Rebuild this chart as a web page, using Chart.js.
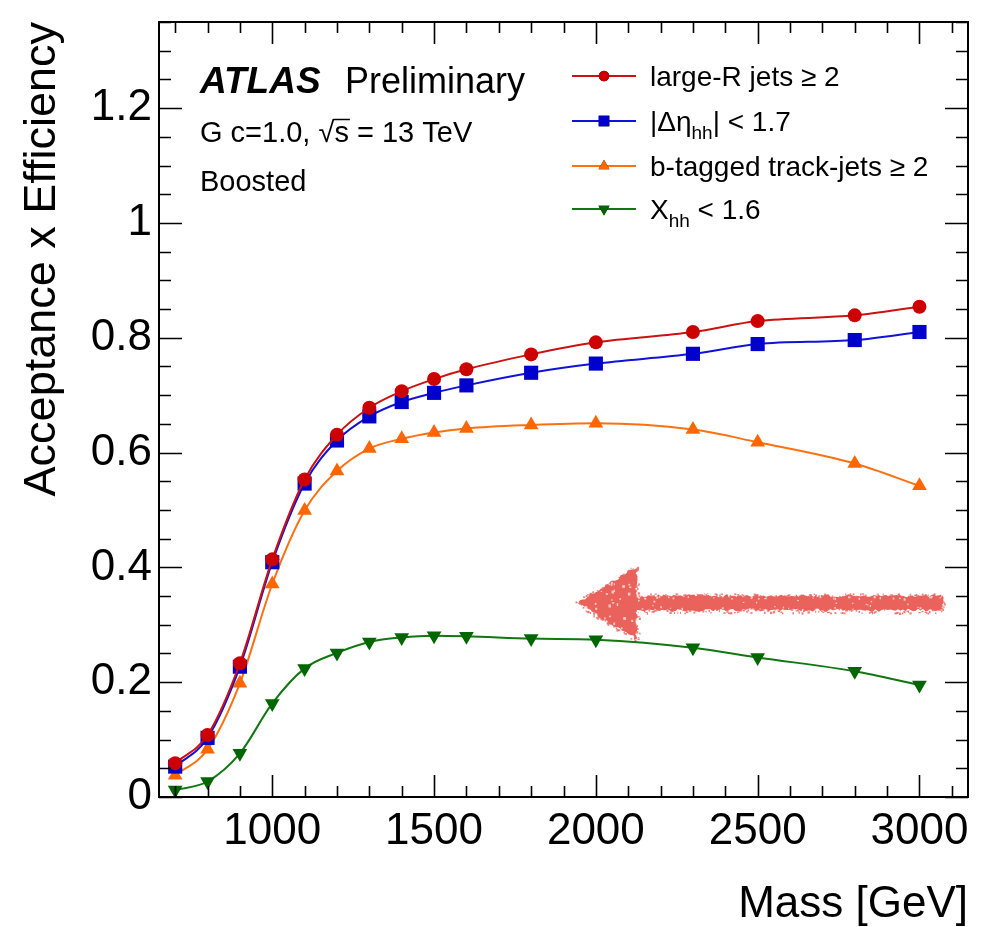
<!DOCTYPE html>
<html>
<head>
<meta charset="utf-8">
<script src="https://cdn.jsdelivr.net/npm/chart.js@4.4.0/dist/chart.umd.min.js"></script>
<style>
  html, body { margin: 0; padding: 0; background: #fff; }
  #wrap { width: 995px; height: 927px; }
</style>
</head>
<body>
<div id="wrap"><canvas id="acc_eff" width="995" height="927"></canvas></div>
<script>
// signal mass points [GeV]
const masses = [700, 800, 900, 1000, 1100, 1200, 1300, 1400, 1500, 1600, 1800, 2000, 2300, 2500, 2800, 3000];

// cumulative acceptance x efficiency after each cut
const largeRJets = [0.059, 0.108, 0.233, 0.414, 0.553, 0.631, 0.678, 0.707, 0.728, 0.745, 0.771, 0.792, 0.810, 0.829, 0.839, 0.854];
const deltaEtaCut = [0.053, 0.103, 0.227, 0.409, 0.546, 0.621, 0.663, 0.688, 0.704, 0.717, 0.739, 0.755, 0.772, 0.789, 0.796, 0.810];
const btagTrackJets = [0.038, 0.083, 0.198, 0.371, 0.499, 0.568, 0.607, 0.624, 0.635, 0.642, 0.648, 0.651, 0.640, 0.618, 0.581, 0.542];
const xhhCut = [0.012, 0.027, 0.076, 0.163, 0.224, 0.251, 0.270, 0.278, 0.281, 0.280, 0.276, 0.274, 0.260, 0.243, 0.219, 0.195];

const xTickLabels = [1000, 1500, 2000, 2500, 3000];
const yTickLabels = [0, 0.2, 0.4, 0.6, 0.8, 1, 1.2];

// legend text: [main, subscript, rest]
const legendText = [
    ['large-R jets \u2265 2', '', ''],
    ['|\u0394\u03b7', 'hh', '| < 1.7'],
    ['b-tagged track-jets \u2265 2', '', ''],
    ['X', 'hh', ' < 1.6']
];

const FONT = '"Liberation Sans", Arial, Helvetica, sans-serif';

// arrow annotation, in axis units
const arrowTipX = 1940, arrowHeadX = 2126, arrowEndX = 3071;
const arrowY = 0.338, arrowHeadHalf = 0.063, arrowShaftHalf = 0.0125;

function makeSet(label, values, color, lineColor, style, radius, rotation) {
    return {
        label: label,
        data: masses.map((m, i) => ({x: m, y: values[i]})),
        borderColor: lineColor,
        backgroundColor: color,
        pointBackgroundColor: color,
        pointBorderColor: color,
        pointBorderWidth: 0,
        pointStyle: style,
        pointRadius: radius,
        pointRotation: rotation || 0,
        borderWidth: 2,
        cubicInterpolationMode: 'monotone',
        fill: false
    };
}

const datasets = [
    makeSet('large-R jets \u2265 2', largeRJets, '#cc0000', '#cc1111', 'circle', 7),
    makeSet('|\u0394\u03b7hh| < 1.7', deltaEtaCut, '#0000cc', '#1111dd', 'rect', 10),
    makeSet('b-tagged track-jets \u2265 2', btagTrackJets, '#ff6600', '#ff7011', 'triangle', 8.5),
    makeSet('Xhh < 1.6', xhhCut, '#006600', '#117711', 'triangle', 8.5, 180)
];

// seeded generator so the arrow texture is the same on every load
let seed = 12345;
function rnd() {
    seed = (seed * 1103515245 + 12345) % 2147483648;
    return seed / 2147483648;
}

const arrowPlugin = {
    id: 'arrowPlugin',
    beforeDatasetsDraw(chart) {
        const ctx = chart.ctx;
        const xs = chart.scales.x, ys = chart.scales.y;
        const tipX = xs.getPixelForValue(arrowTipX);
        const headX = xs.getPixelForValue(arrowHeadX);
        const endX = xs.getPixelForValue(arrowEndX);
        const cy = ys.getPixelForValue(arrowY);
        const hh = ys.getPixelForValue(arrowY - arrowHeadHalf) - cy;
        const sh = ys.getPixelForValue(arrowY - arrowShaftHalf) - cy;
        const pts = [
            [tipX, cy], [headX, cy - hh], [headX, cy - sh], [endX, cy - sh],
            [endX, cy + sh], [headX, cy + sh], [headX, cy + hh]
        ];
        ctx.save();
        // outline with a hand-drawn wobble
        ctx.fillStyle = 'rgb(234, 98, 92)';
        ctx.beginPath();
        ctx.moveTo(pts[0][0], pts[0][1]);
        for (let i = 0; i < pts.length; i++) {
            const a = pts[i], b = pts[(i + 1) % pts.length];
            const len = Math.hypot(b[0] - a[0], b[1] - a[1]);
            const nx = -(b[1] - a[1]) / len, ny = (b[0] - a[0]) / len;
            for (let s = 2; s < len; s += 2.5) {
                const t = s / len;
                const off = (rnd() - 0.5) * 3;
                ctx.lineTo(a[0] + (b[0] - a[0]) * t + nx * off, a[1] + (b[1] - a[1]) * t + ny * off);
            }
            ctx.lineTo(b[0], b[1]);
        }
        ctx.closePath();
        ctx.fill();
        // loose grains along the edges
        for (let i = 0; i < pts.length; i++) {
            const a = pts[i], b = pts[(i + 1) % pts.length];
            const len = Math.hypot(b[0] - a[0], b[1] - a[1]);
            const nx = -(b[1] - a[1]) / len, ny = (b[0] - a[0]) / len;
            for (let s = 0; s < len; s += 1.5) {
                const t = s / len;
                const off = (rnd() - 0.5) * 5;
                const px = a[0] + (b[0] - a[0]) * t + nx * off;
                const py = a[1] + (b[1] - a[1]) * t + ny * off;
                ctx.fillStyle = rnd() < 0.8 ? 'rgba(234, 98, 92, 0.8)' : 'rgba(255, 255, 255, 0.7)';
                ctx.fillRect(px, py, 1 + rnd() * 1.5, 1 + rnd() * 1.5);
            }
        }
        // a few pale specks inside
        ctx.fillStyle = 'rgba(255, 225, 222, 0.8)';
        for (let k = 0; k < 18; k++) {
            const px = tipX + 14 + rnd() * (headX - tipX - 18);
            const py = cy + (rnd() - 0.5) * hh * 1.4 * (px - tipX) / (headX - tipX);
            ctx.fillRect(px, py, 1 + rnd() * 2, 1 + rnd() * 2);
        }
        for (let k = 0; k < 25; k++) {
            const px = headX + rnd() * (endX - headX);
            const py = cy + (rnd() - 0.5) * sh * 1.6;
            ctx.fillRect(px, py, 1 + rnd(), 1 + rnd());
        }
        ctx.restore();
    }
};

const framePlugin = {
    id: 'framePlugin',
    afterDraw(chart) {
        const ctx = chart.ctx;
        const a = chart.chartArea;
        const xs = chart.scales.x, ys = chart.scales.y;
        ctx.save();
        ctx.strokeStyle = '#000';
        ctx.lineWidth = 1.6;
        // x ticks every 100 GeV, long ones every 500
        for (let v = Math.ceil(xs.min / 100) * 100; v <= xs.max; v += 100) {
            const px = Math.round(xs.getPixelForValue(v)) + 0.5;
            const len = v % 500 === 0 ? 22 : 11;
            ctx.beginPath();
            ctx.moveTo(px, a.bottom); ctx.lineTo(px, a.bottom - len);
            ctx.moveTo(px, a.top); ctx.lineTo(px, a.top + len);
            ctx.stroke();
        }
        // y ticks every 0.05, long ones every 0.2
        for (let k = 0; k * 0.05 <= ys.max + 1e-9; k++) {
            const py = Math.round(ys.getPixelForValue(k * 0.05)) + 0.5;
            const len = k % 4 === 0 ? 23 : 12;
            ctx.beginPath();
            ctx.moveTo(a.left, py); ctx.lineTo(a.left + len, py);
            ctx.moveTo(a.right, py); ctx.lineTo(a.right - len, py);
            ctx.stroke();
        }
        ctx.lineWidth = 2;
        ctx.strokeRect(a.left, a.top, a.right - a.left, a.bottom - a.top);

        // labels
        ctx.fillStyle = '#000';
        ctx.textBaseline = 'alphabetic';
        ctx.font = 'italic bold 37px ' + FONT;
        ctx.fillText('ATLAS', 200, 93);
        ctx.font = '36px ' + FONT;
        ctx.fillText('Preliminary', 345, 93);
        ctx.font = '29px ' + FONT;
        let tx0 = 200;
        const pre = 'G c=1.0, \u221A';
        ctx.fillText(pre, tx0, 142);
        tx0 += ctx.measureText(pre).width;
        const sw = ctx.measureText('s').width;
        ctx.fillText('s = 13 TeV', tx0, 142);
        // overline of the square root
        ctx.lineWidth = 1.5;
        ctx.beginPath();
        ctx.moveTo(tx0 - 1, 119.5); ctx.lineTo(tx0 + sw + 1, 119.5);
        ctx.stroke();
        ctx.fillText('Boosted', 200, 191);

        // legend
        const lx0 = 572, lx1 = 636, tx = 650;
        const rows = [76, 121, 166, 209];
        chart.data.datasets.forEach((ds, i) => {
            const y = rows[i];
            ctx.strokeStyle = ds.borderColor;
            ctx.lineWidth = 2;
            ctx.beginPath();
            ctx.moveTo(lx0, y); ctx.lineTo(lx1, y);
            ctx.stroke();
            Chart.helpers.drawPoint(ctx, {
                pointStyle: ds.pointStyle,
                rotation: ds.pointRotation,
                radius: ds.pointRadius * 0.75,
                borderWidth: 0
            }, (lx0 + lx1) / 2, y);
            ctx.fillStyle = ds.pointBackgroundColor;
            ctx.fill();
            const parts = legendText[i];
            ctx.fillStyle = '#000';
            ctx.font = '28px ' + FONT;
            let x = tx;
            const base = y + 10;
            ctx.fillText(parts[0], x, base);
            x += ctx.measureText(parts[0]).width;
            if (parts[1]) {
                ctx.font = '19px ' + FONT;
                ctx.fillText(parts[1], x, base + 8);
                x += ctx.measureText(parts[1]).width;
                ctx.font = '28px ' + FONT;
                ctx.fillText(parts[2], x, base);
            }
        });
        ctx.restore();
    }
};

const ctx = document.getElementById('acc_eff');
const accChart = new Chart(ctx, {
    type: 'line',
    data: { datasets: datasets },
    plugins: [arrowPlugin, framePlugin],
    options: {
        responsive: false,
        devicePixelRatio: 1,
        animation: false,
        layout: { padding: { top: 22, right: 27, left: 0, bottom: 0 } },
        plugins: {
            legend: { display: false },
            tooltip: { enabled: false }
        },
        scales: {
            x: {
                type: 'linear',
                min: 650,
                max: 3150,
                grid: { display: false, drawTicks: false },
                border: { display: false },
                afterBuildTicks: scale => { scale.ticks = xTickLabels.map(v => ({value: v})); },
                afterFit: scale => {
                    scale.height = 130;
                    scale.paddingLeft = 0;
                    scale.paddingRight = 0;
                },
                ticks: {
                    color: '#000',
                    padding: 8,
                    maxRotation: 0,
                    font: { family: FONT, size: 44 },
                    callback: v => String(v)
                },
                title: {
                    display: true,
                    text: 'Mass [GeV]',
                    align: 'end',
                    color: '#000',
                    padding: 0,
                    font: { family: FONT, size: 44, lineHeight: 1 }
                }
            },
            y: {
                type: 'linear',
                min: 0,
                max: 1.35,
                grid: { display: false, drawTicks: false },
                border: { display: false },
                afterBuildTicks: scale => { scale.ticks = yTickLabels.map(v => ({value: v})); },
                afterFit: scale => {
                    scale.width = 159;
                    scale.paddingTop = 0;
                    scale.paddingBottom = 0;
                },
                ticks: {
                    color: '#000',
                    padding: 7,
                    font: { family: FONT, size: 44 },
                    callback: v => String(v)
                },
                title: {
                    display: true,
                    text: 'Acceptance x Efficiency',
                    align: 'end',
                    color: '#000',
                    padding: { top: 20, bottom: 0 },
                    font: { family: FONT, size: 45, lineHeight: 1 }
                }
            }
        }
    }
});
</script>
</body>
</html>
